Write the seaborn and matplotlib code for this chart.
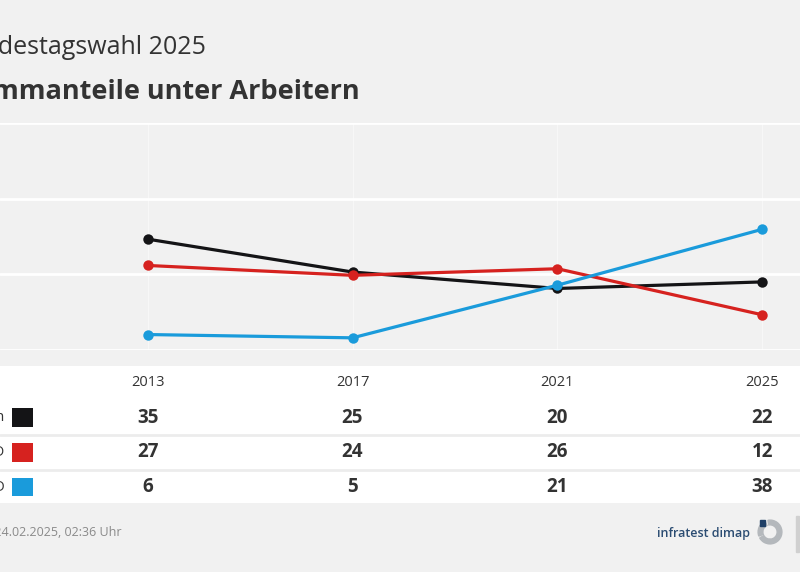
import matplotlib
matplotlib.use("Agg")
import matplotlib.pyplot as plt
import matplotlib.patches as mpatches
import matplotlib.transforms as mtransforms
import numpy as np
import pandas as pd
import seaborn as sns

# data
years = [2013, 2017, 2021, 2025]
parties = ["Union", "SPD", "AfD"]
union = [35, 25, 20, 22]
spd = [27, 24, 26, 12]
afd = [6, 5, 21, 38]
colors = ["#141416", "#d6221f", "#1a9bdb"]

df = pd.DataFrame({
    "year": years * 3,
    "party": np.repeat(parties, len(years)),
    "value": union + spd + afd,
})

BG = "#f1f1f1"
TXT = "#333333"

sns.set_theme(style="white")
plt.rcParams["font.family"] = ["Open Sans", "DejaVu Sans"]

W, H = 800, 572
fig = plt.figure(figsize=(8, 5.72), dpi=100, facecolor=BG)

def px_box(x0, y0, x1, y1):
    # pixel box (top-left origin) -> figure fraction rect
    return [x0 / W, 1 - y1 / H, (x1 - x0) / W, (y1 - y0) / H]

xlim = (2013 - 147.7 / 51.25, 2025 + 37.7 / 51.25)

# line chart
ax = fig.add_axes(px_box(0, 123, 800, 350))
ax.set_facecolor(BG)
sns.lineplot(data=df, x="year", y="value", hue="party", hue_order=parties,
             palette=colors, marker="o", markersize=7.5, markeredgewidth=0,
             linewidth=2.3, legend=False, ax=ax)
ax.set_xlim(*xlim)
ylim = (1.3, 70.3)
ax.set_ylim(*ylim)
ax.set_yticks(np.linspace(ylim[0], ylim[1], 4))
ax.set_xticks(years)
ax.yaxis.grid(True, color="white", linewidth=2)
ax.xaxis.grid(True, color="white", linewidth=0.8, alpha=0.45)
ax.set_axisbelow(True)
ax.tick_params(left=False, bottom=False, labelleft=False, labelbottom=False)
ax.set_xlabel("")
ax.set_ylabel("")
for s in ax.spines.values():
    s.set_visible(False)

# table underneath
tb = fig.add_axes(px_box(0, 366, 800, 503))
tb.set_facecolor("white")
tb.set_xlim(*xlim)
tb.set_ylim(3.46, -0.49)
tb.set_xticks([])
tb.set_yticks([])
for s in tb.spines.values():
    s.set_visible(False)
for yy in [1.5, 2.5]:
    tb.axhline(yy, color="#ececec", linewidth=2)

for yr in years:
    tb.text(yr, 0, str(yr), ha="center", va="center", fontsize=10.5, color=TXT)

blend = mtransforms.blended_transform_factory(tb.transAxes, tb.transData)
for i, (name, vals, c) in enumerate(zip(parties, [union, spd, afd], colors), start=1):
    tb.text(0.006, i, name, ha="right", va="center", fontsize=10.5, color=TXT,
            transform=blend)
    tb.add_patch(mpatches.Rectangle((12 / W, i - 0.27), 21 / W, 0.54,
                                    color=c, transform=blend, lw=0))
    for yr, v in zip(years, vals):
        tb.text(yr, i, str(v), ha="center", va="center", fontsize=13.5,
                fontweight="bold", color=TXT)

# titles (left part cut off as in the reference)
fig.text(206 / W, 1 - 54 / H, "Bundestagswahl 2025", ha="right", va="baseline",
         fontsize=18, color=TXT)
fig.text(360 / W, 1 - 99 / H, "Stimmanteile unter Arbeitern", ha="right",
         va="baseline", fontsize=19.5, fontweight="bold", color=TXT)

# footer
fig.text(122 / W, 1 - 536 / H, "Stand: 24.02.2025, 02:36 Uhr", ha="right",
         va="baseline", fontsize=9, color="#8a8a8a")
fig.text(750 / W, 1 - 537 / H, "infratest dimap", ha="right", va="baseline",
         fontsize=9, fontweight="semibold", color="#2b4c72")

# logo
lax = fig.add_axes(px_box(756, 518, 784, 546))
lax.set_xlim(-1, 1)
lax.set_ylim(-1, 1)
lax.axis("off")
lax.add_patch(mpatches.Wedge((0, 0), 0.85, -90, 100, width=0.34, color="#b4b8bc"))
lax.add_patch(mpatches.Wedge((0, 0), 0.85, 115, 200, width=0.34, color="#b4b8bc"))
lax.add_patch(mpatches.Wedge((0, 0), 0.85, 210, 268, width=0.34, color="#b4b8bc"))
lax.add_patch(mpatches.Rectangle((-0.75, 0.45), 0.42, 0.42, color="#1f3f66"))
fig.add_artist(mpatches.Rectangle((796 / W, 1 - 552 / H), 3 / W, 36 / H,
                                  color="#d0d0d0", transform=fig.transFigure))

fig.savefig("out.png", dpi=100, facecolor=BG)
